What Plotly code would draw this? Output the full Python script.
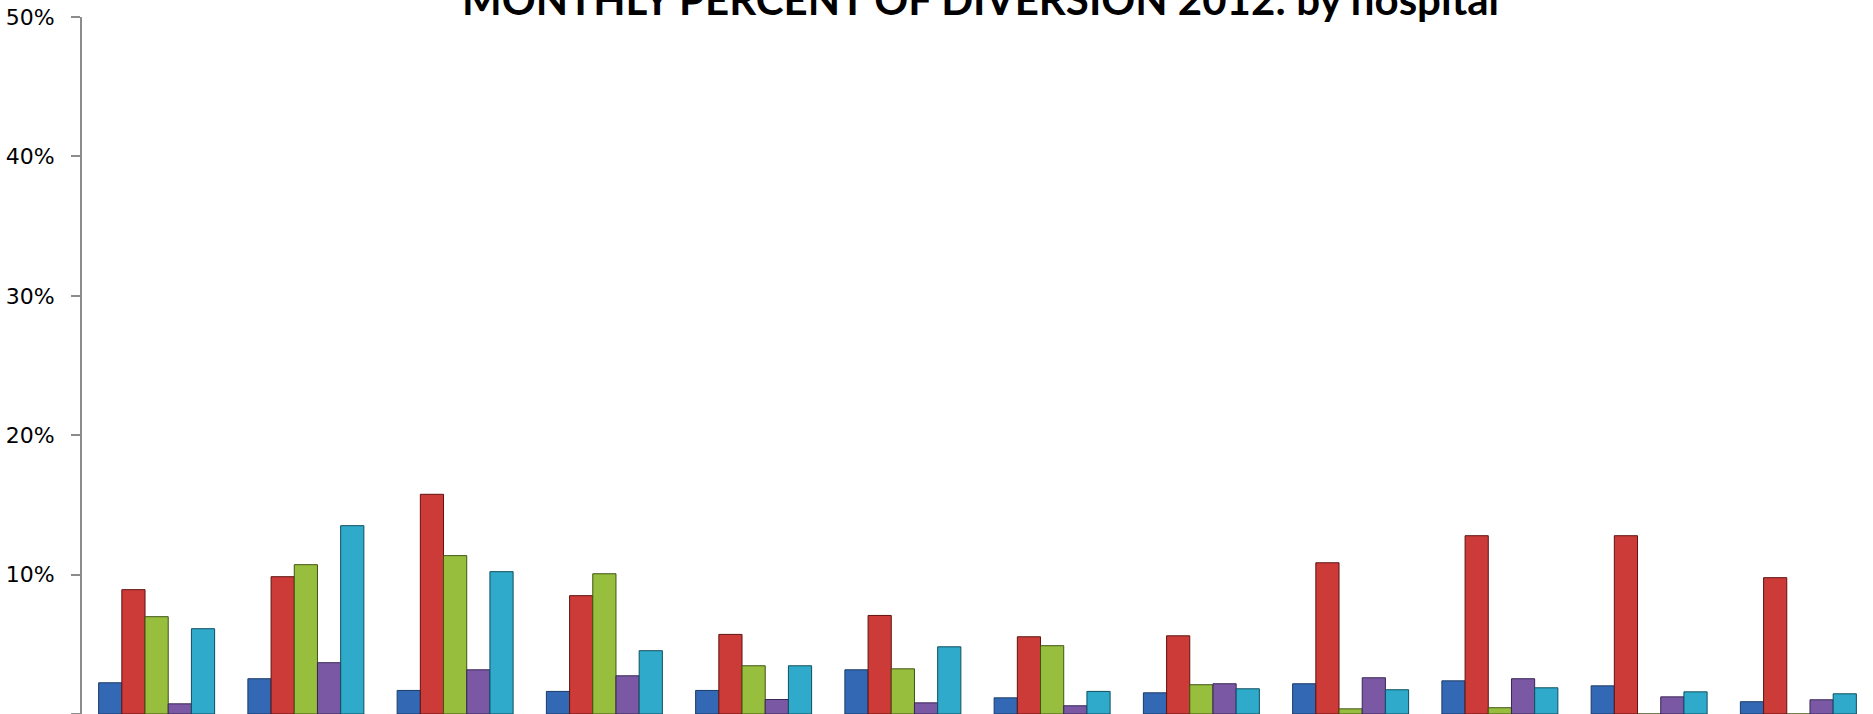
import plotly.graph_objects as go

months = ["Jan", "Feb", "Mar", "Apr", "May", "Jun", "Jul", "Aug", "Sep", "Oct", "Nov", "Dec"]
series_names = ["Hospital 1", "Hospital 2", "Hospital 3", "Hospital 4", "Hospital 5"]

hospital_1 = [0.0224, 0.0253, 0.0169, 0.0162, 0.0169, 0.0317, 0.0116, 0.0152, 0.0217, 0.0238, 0.0202, 0.0088]
hospital_2 = [0.0892, 0.0985, 0.1576, 0.0849, 0.0571, 0.0707, 0.0554, 0.0561, 0.1085, 0.1279, 0.1279, 0.0978]
hospital_3 = [0.0698, 0.1071, 0.1136, 0.1006, 0.0346, 0.0324, 0.0490, 0.0210, 0.0037, 0.0045, 0.0, 0.0]
hospital_4 = [0.0073, 0.0368, 0.0317, 0.0274, 0.0104, 0.0080, 0.0059, 0.0217, 0.0260, 0.0253, 0.0123, 0.0102]
hospital_5 = [0.0612, 0.1351, 0.1021, 0.0454, 0.0346, 0.0482, 0.0162, 0.0181, 0.0174, 0.0188, 0.0159, 0.0145]

values = [hospital_1, hospital_2, hospital_3, hospital_4, hospital_5]
colors = ["#3369B4", "#CC3B37", "#98BE3E", "#7A58A4", "#2FAACA"]
edges = ["#1B3A66", "#5E1412", "#3F5513", "#3A2656", "#0F4F60"]

y_ticks = [0, 0.1, 0.2, 0.3, 0.4, 0.5]
y_labels = ["0%", "10%", "20%", "30%", "40%", "50%"]

fig = go.Figure()
for name, vals, c, e in zip(series_names, values, colors, edges):
    fig.add_trace(go.Bar(
        x=months, y=vals, name=name,
        marker=dict(color=c, line=dict(color=e, width=1)),
    ))

fig.update_layout(
    width=1873, height=714,
    margin=dict(l=82, r=0, t=17, b=0),
    paper_bgcolor="white", plot_bgcolor="white",
    barmode="group", bargap=0.223, bargroupgap=0,
    showlegend=False,
    font=dict(family="DejaVu Sans", color="#000000"),
    annotations=[dict(
        text="<b>MONTHLY PERCENT OF DIVERSION 2012: by hospital</b>",
        xref="paper", yref="paper", x=(980 - 82) / (1873 - 82), y=1.0,
        yanchor="bottom", xanchor="center",
        showarrow=False, yshift=-9,
        font=dict(family="Lato", size=42, color="#000000"),
    )],
)
fig.update_yaxes(
    range=[0, 0.5], tickvals=y_ticks, ticktext=y_labels,
    showline=True, linecolor="#8C8C8C", linewidth=2,
    ticks="outside", ticklen=9, tickwidth=2, tickcolor="#8C8C8C",
    showgrid=False, zeroline=False,
    tickfont=dict(family="DejaVu Sans", size=22, color="#000000"),
    ticklabelstandoff=12,
)
fig.update_xaxes(
    showline=True, linecolor="#8C8C8C", linewidth=2,
    showticklabels=False, ticks="", showgrid=False,
)

fig.write_html(
    "out.html",
    config={"displayModeBar": False},
    post_script="document.body.style.margin='0';document.body.style.overflow='hidden';",
)
